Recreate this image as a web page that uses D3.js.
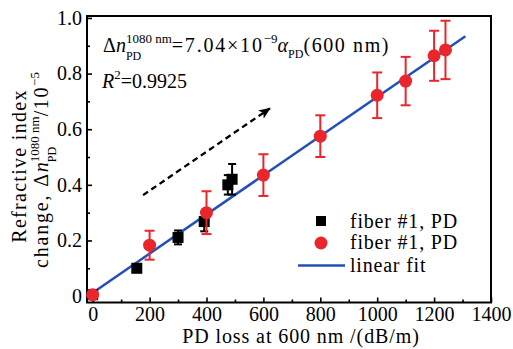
<!DOCTYPE html>
<html><head><meta charset="utf-8">
<script src="https://cdn.jsdelivr.net/npm/d3@7"></script>
<style>
html,body{margin:0;padding:0;background:#fff;}
</style></head>
<body><svg id="c" width="513" height="349" font-family="Liberation Serif"></svg>
<script>
// ---- data ----
const xMajorTicks = [0,200,400,600,800,1000,1200,1400];
const xMinorTicks = [100,300,500,700,900,1100,1300];
const yMajorTicks = [0,0.2,0.4,0.6,0.8,1.0];
const yMinorTicks = [0.1,0.3,0.5,0.7,0.9];
const yTickLabels = ["0","0.2","0.4","0.6","0.8","1.0"];

const blackX = [0,155,300,392,475,490];
const blackY = [0.005,0.100,0.211,0.268,0.400,0.420];
const blackErr = [0.006,0.012,0.025,0.035,0.035,0.055];

const redX = [0,200,400,600,800,1000,1100,1200,1240];
const redY = [0.005,0.183,0.300,0.435,0.575,0.722,0.773,0.864,0.885];
const redErr = [0,0.052,0.077,0.075,0.075,0.082,0.087,0.090,0.105];

const fitSlope = 0.000704, fitIntercept = 0.012;
const fitRange = [-20,1310];
const arrowFrom = [177,0.363], arrowTo = [623,0.675];

const seriesNames = ["fiber #1, PD","fiber #1, PD","linear fit"];

// ---- layout ----
const FONT = "Liberation Serif";
const L=87, R=491, T=16, B=302.5;
const svg = d3.select("#c");
const x = d3.scaleLinear().domain([-20,1400]).range([L,R]);
const y = d3.scaleLinear().domain([-0.023,1.007]).range([B,T]);
const RED="#e8262b", BLUE="#2350b8";

// axes (inward ticks)
const gx = svg.append("g").attr("transform",`translate(0,${B})`)
  .call(d3.axisBottom(x).tickValues(xMajorTicks).tickSize(-5).tickPadding(4).tickFormat(d3.format("d")));
svg.append("g").attr("transform",`translate(0,${B})`)
  .call(d3.axisBottom(x).tickValues(xMinorTicks).tickSize(-3).tickFormat(""));
const gy = svg.append("g").attr("transform",`translate(${L},0)`)
  .call(d3.axisLeft(y).tickValues(yMajorTicks).tickSize(-5).tickPadding(5).tickFormat((d,i)=>yTickLabels[i]));
svg.append("g").attr("transform",`translate(${L},0)`)
  .call(d3.axisLeft(y).tickValues(yMinorTicks).tickSize(-3).tickFormat(""));
svg.selectAll("g").attr("font-family",FONT);
svg.selectAll(".domain").remove();
svg.selectAll(".tick line").attr("stroke","#000").attr("stroke-width",1.6);
svg.selectAll(".tick text").attr("font-size",20).attr("font-family",FONT).attr("fill","#000");
gx.selectAll(".tick text").attr("dy","0.72em");

// frame
svg.append("rect").attr("x",L).attr("y",T).attr("width",R-L).attr("height",B-T)
  .attr("fill","none").attr("stroke","#000").attr("stroke-width",2);

// fit line
svg.append("line").attr("x1",x(fitRange[0])).attr("y1",y(fitIntercept+fitSlope*fitRange[0]))
  .attr("x2",x(fitRange[1])).attr("y2",y(fitIntercept+fitSlope*fitRange[1]))
  .attr("stroke",BLUE).attr("stroke-width",2.5);

// black squares with error bars
const bData = blackX.map((v,i)=>({x:v,y:blackY[i],e:blackErr[i]}));
const bg = svg.append("g");
bData.forEach(d=>{
  const cx=x(d.x);
  bg.append("line").attr("x1",cx).attr("x2",cx).attr("y1",y(d.y-d.e)).attr("y2",y(d.y+d.e)).attr("stroke","#000").attr("stroke-width",2);
  [d.y-d.e,d.y+d.e].forEach(v=>bg.append("line").attr("x1",cx-4).attr("x2",cx+4).attr("y1",y(v)).attr("y2",y(v)).attr("stroke","#000").attr("stroke-width",2));
  bg.append("rect").attr("x",cx-5.5).attr("y",y(d.y)-5.5).attr("width",11).attr("height",11).attr("fill","#000");
});

// red circles with error bars
const rData = redX.map((v,i)=>({x:v,y:redY[i],e:redErr[i]}));
const rg = svg.append("g");
rData.forEach(d=>{
  const cx=x(d.x);
  if(d.e>0){
    rg.append("line").attr("x1",cx).attr("x2",cx).attr("y1",y(d.y-d.e)).attr("y2",y(d.y+d.e)).attr("stroke",RED).attr("stroke-width",2);
    [d.y-d.e,d.y+d.e].forEach(v=>rg.append("line").attr("x1",cx-5).attr("x2",cx+5).attr("y1",y(v)).attr("y2",y(v)).attr("stroke",RED).attr("stroke-width",2));
  }
  rg.append("circle").attr("cx",cx).attr("cy",y(d.y)).attr("r",6.5).attr("fill",RED);
});

// dashed arrow
const defs = svg.append("defs");
defs.append("marker").attr("id","ah").attr("viewBox","0 0 12 10").attr("refX",11).attr("refY",5)
  .attr("markerWidth",12).attr("markerHeight",10).attr("markerUnits","userSpaceOnUse").attr("orient","auto")
  .append("path").attr("d","M0,0 L12,5 L0,10 L3,5 Z").attr("fill","#000");
svg.append("line").attr("x1",x(arrowFrom[0])).attr("y1",y(arrowFrom[1]))
  .attr("x2",x(arrowTo[0])).attr("y2",y(arrowTo[1]))
  .attr("stroke","#000").attr("stroke-width",2.3).attr("stroke-dasharray","6,4")
  .attr("marker-end","url(#ah)");

// rich text helper: segments {t,size,dy,it,stack}
function rich(g, segs, x0, y0, anchor){
  const grp = g.append("g").attr("font-family",FONT);
  let cx = x0, prevStart = x0, prevW = 0;
  segs.forEach(s=>{
    let sx = cx;
    if(s.stack){ sx = prevStart; }
    const t = grp.append("text").attr("x",sx).attr("y",y0+(s.dy||0)).attr("font-size",s.size||20)
      .attr("font-family",FONT)
      .attr("font-style",s.it?"italic":"normal").attr("fill","#000").text(s.t);
    if(s.ls) t.attr("letter-spacing",s.ls);
    const w = t.node().getComputedTextLength();
    if(s.stack){ cx = prevStart + Math.max(prevW,w); }
    else { prevStart = sx; prevW = w; cx = sx + w; }
  });
  const total = cx - x0;
  if(anchor==="middle") grp.attr("transform",`translate(${-total/2},0)`);
  return grp;
}

// annotation
rich(svg,[
  {t:"Δ"},{t:"n",it:true},{t:"1080 nm",size:13,dy:-9},{t:"PD",size:12,dy:8,stack:true},
  {t:"=7.04×10",ls:1.8},{t:"−9",size:13,dy:-9},{t:" "},{t:"α",it:true},{t:"PD",size:12,dy:6},{t:"(600 nm)",ls:1.6}
],103,52);
rich(svg,[{t:"R",it:true},{t:"2",size:13,dy:-9},{t:"=0.9925"}],102,88);

// x title
svg.append("text").attr("x",301).attr("y",343).attr("text-anchor","middle").attr("font-size",20)
  .attr("font-family",FONT).attr("letter-spacing",0.9).text("PD loss at 600 nm /(dB/m)");

// y title
const yt = svg.append("g").attr("transform","rotate(-90)").attr("font-family",FONT);
yt.append("text").attr("x",-166).attr("y",26).attr("text-anchor","middle").attr("font-size",20)
  .attr("font-family",FONT).attr("letter-spacing",1.3).text("Refractive index");
rich(yt,[
  {t:"change, Δ",ls:1.8},{t:"n",it:true},{t:"1080 nm",size:13,dy:-9},{t:"PD",size:12,dy:8,stack:true},
  {t:" /10",ls:1.6},{t:"−5",size:13,dy:-9}
],-170,48,"middle");

// legend
const lg = svg.append("g").attr("font-family",FONT);
lg.append("rect").attr("x",316).attr("y",216).attr("width",10).attr("height",10).attr("fill","#000");
lg.append("circle").attr("cx",321).attr("cy",243).attr("r",6.5).attr("fill",RED);
lg.append("line").attr("x1",298).attr("x2",345).attr("y1",265.5).attr("y2",265.5).attr("stroke",BLUE).attr("stroke-width",2.5);
[228,249,272].forEach((yy,i)=>lg.append("text").attr("x",350).attr("y",yy).attr("font-size",20)
  .attr("font-family",FONT).attr("letter-spacing",0.8).text(seriesNames[i]));
</script></body></html>
